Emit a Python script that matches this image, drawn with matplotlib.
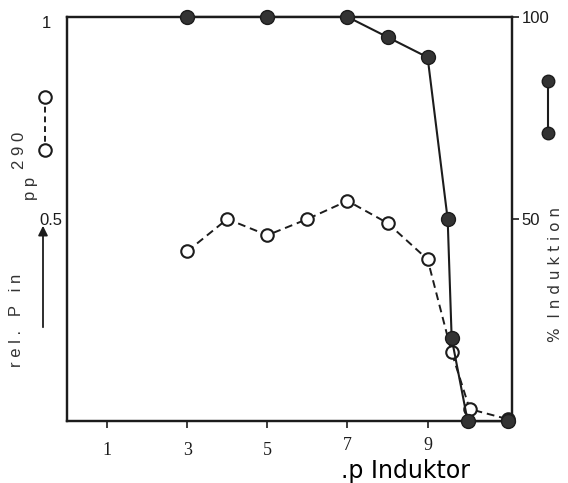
import matplotlib
matplotlib.use('Agg')
import matplotlib.pyplot as plt
from matplotlib.transforms import ScaledTranslation

# rel. P (open circles, left axis 0..1)
open_x = [3, 4, 5, 6, 7, 8, 9, 9.6, 10.05, 11]
open_y = [0.42, 0.50, 0.46, 0.50, 0.545, 0.49, 0.40, 0.17, 0.03, 0.005]

# % Induktion (filled circles, right axis 0..100)
fill_x = [3, 5, 7, 8, 9, 9.5, 9.6, 10, 11]
fill_y = [100, 100, 100, 95, 90, 50, 20.5, 0, 0]

xticks = [1, 3, 5, 7, 9]

fig = plt.figure(figsize=(5.68, 4.83), dpi=100)
ax = fig.add_axes([0.118, 0.128, 0.783, 0.837])
ax2 = ax.twinx()

ink = '#1c1c1c'

ax.plot(open_x, open_y, linestyle=(0, (4, 2.5)), color=ink, lw=1.4,
        marker='o', ms=9, mfc='white', mec=ink, mew=1.5, clip_on=False, zorder=3)
ax2.plot(fill_x, fill_y, '-', color=ink, lw=1.5,
         marker='o', ms=10, mfc='#333333', mec=ink, mew=1, clip_on=False, zorder=4)

ax.set_xlim(0, 11.1)
ax.set_ylim(0, 1)
ax2.set_ylim(0, 100)

for a in (ax, ax2):
    for s in a.spines.values():
        s.set_linewidth(1.6)
        s.set_color(ink)

ax.set_xticks(xticks)
ax.set_xticklabels([str(t) for t in xticks], family='Liberation Serif', fontsize=13)
ax.tick_params(axis='x', direction='out', length=5, width=1.2, pad=10, colors=ink)
# the 7 and 9 sit a little higher in the original
for lab in ax.get_xticklabels()[3:]:
    lab.set_transform(lab.get_transform() + ScaledTranslation(0, 5 / 100, fig.dpi_scale_trans))

ax.set_yticks([0.5, 1])
ax.set_yticklabels(['0.5', '1'], family='Liberation Sans', fontsize=12)
ax.tick_params(axis='y', length=0, pad=3, colors=ink)
ax.get_yticklabels()[1].set_transform(
    ax.get_yticklabels()[1].get_transform() + ScaledTranslation(-12 / 100, -5 / 100, fig.dpi_scale_trans))

ax2.set_yticks([50, 100])
ax2.set_yticklabels(['50', '100'], family='Liberation Sans', fontsize=12)
ax2.tick_params(axis='y', direction='out', length=5, width=1.2, pad=2, colors=ink)

# x axis label
fig.text(341 / 568, 1 - 471 / 483, '.p Induktor', fontsize=17, family='DejaVu Sans',
         ha='left', va='center')

# left axis label (letter spaced, rotated)
fig.text(17 / 568, 1 - 320 / 483, 'r e l .   P   i n', rotation=90, fontsize=12,
         family='Liberation Sans', ha='center', va='center', color='#333333')
fig.text(31 / 568, 1 - 188 / 483, 'p p', rotation=90, fontsize=12,
         family='Liberation Sans', ha='center', va='center', color='#333333')
fig.text(19 / 568, 1 - 150 / 483, '2 9 0', rotation=90, fontsize=12,
         family='Liberation Sans', ha='center', va='center', color='#333333')

# right axis label
fig.text(555 / 568, 1 - 274 / 483, '%  I n d u k t i o n', rotation=90, fontsize=11,
         family='DejaVu Sans', ha='center', va='center', color='#333333')

# legend symbols beside the axes
fig.add_artist(plt.Line2D([45 / 568, 45 / 568], [1 - 97 / 483, 1 - 150 / 483],
                          linestyle=(0, (3, 2)), color=ink, lw=1.4, marker='o', ms=9,
                          mfc='white', mec=ink, mew=1.5))
fig.add_artist(plt.Line2D([548 / 568, 548 / 568], [1 - 81 / 483, 1 - 133 / 483],
                          color=ink, lw=1.5, marker='o', ms=9, mfc='#333333', mec=ink))

# arrow pointing up on the left
fig.add_artist(matplotlib.patches.FancyArrowPatch(
    (43 / 568, 1 - 330 / 483), (43 / 568, 1 - 223 / 483), transform=fig.transFigure,
    arrowstyle='-|>', mutation_scale=14, color=ink, lw=1.3))

fig.savefig('out.png', dpi=100)
